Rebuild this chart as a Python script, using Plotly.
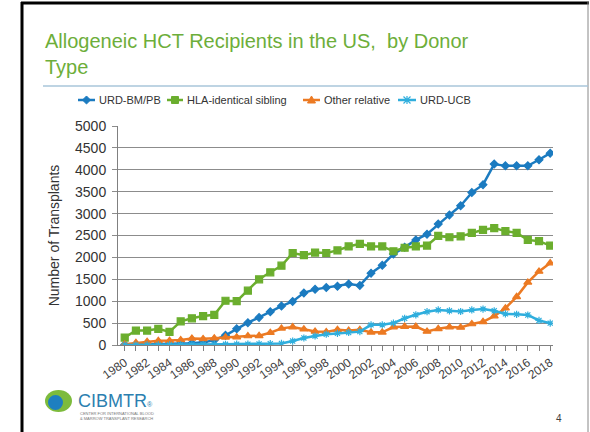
import plotly.graph_objects as go

years = list(range(1980, 2019))
urd_bm_pb = [5, 10, 15, 20, 25, 30, 40, 60, 110, 220,
             370, 510, 630, 760, 890, 995, 1190, 1270, 1310, 1340,
             1390, 1360, 1640, 1820, 2080, 2230, 2400, 2530, 2760, 2970,
             3180, 3480, 3660, 4130, 4090, 4090, 4090, 4230, 4380]
hla_sibling = [170, 330, 330, 370, 300, 540, 610, 660, 690, 1010,
               1000, 1240, 1500, 1660, 1810, 2100, 2050, 2110, 2100, 2160,
               2250, 2310, 2250, 2250, 2140, 2220, 2250, 2270, 2490, 2460,
               2480, 2560, 2630, 2670, 2600, 2560, 2400, 2370, 2270]
other_relative = [20, 50, 75, 95, 100, 115, 150, 140, 155, 175,
                  180, 205, 210, 280, 380, 410, 360, 310, 300, 350,
                  330, 350, 290, 290, 410, 420, 420, 310, 370, 410,
                  400, 480, 530, 660, 840, 1100, 1430, 1680, 1870]
urd_ucb = [0, 0, 2, 3, 5, 5, 8, 10, 12, 15,
           20, 20, 25, 30, 35, 90, 160, 205, 245, 265,
           285, 305, 460, 460, 500, 610, 690, 760, 800, 780,
           765, 800, 820, 780, 710, 700, 685, 560, 500]
series_names = ["URD-BM/PB", "HLA-identical sibling", "Other relative", "URD-UCB"]
tick_years = list(range(1980, 2019, 2))
y_ticks = list(range(0, 5001, 500))

W, H = 590, 432
L, R, T, B = 118, 37, 126, 87
PW, PH = W - L - R, H - T - B


def px(x):
    return (x - L) / PW


def py(y):
    return (H - B - y) / PH


def path(points, close=False):
    segs = []
    for i, (x, y) in enumerate(points):
        segs.append(("M" if i == 0 else "L") + f"{px(x):.5f},{py(y):.5f}")
    return " ".join(segs) + (" Z" if close else "")


colors = ["#1B7BC0", "#6BAE2E", "#EC7A23", "#2FAEDD"]
symbols = ["diamond", "square", "triangle-up", "asterisk-open"]
sizes = [6, 7, 7, 6]

fig = go.Figure()
for name, vals, c, s, sz in zip(series_names, [urd_bm_pb, hla_sibling, other_relative, urd_ucb], colors, symbols, sizes):
    fig.add_trace(go.Scatter(
        x=years, y=vals, name=name, mode="lines+markers",
        line=dict(color=c, width=2.5),
        marker=dict(symbol=s, size=sz, color=c, line=dict(color=c, width=1.2)),
        showlegend=False,
    ))

fig.update_layout(
    width=W, height=H,
    margin=dict(l=L, r=R, t=T, b=B),
    paper_bgcolor="white", plot_bgcolor="white",
    font=dict(family="Arial, Liberation Sans, sans-serif", color="#404040"),
    showlegend=False,
    xaxis=dict(range=[1979.4, 2018.25], tickmode="array", tickvals=tick_years,
               ticktext=[str(v) for v in tick_years], tickangle=-35,
               tickfont=dict(size=12, color="#404040"), showgrid=False,
               showline=True, linecolor="#808080", linewidth=1,
               ticks="outside", ticklen=5, tickcolor="#808080",
               minor=dict(ticks="outside", ticklen=5, tickcolor="#808080", dtick=1, tick0=1980),
               zeroline=False),
    yaxis=dict(range=[0, 5000], tickvals=y_ticks, tickfont=dict(size=14, color="#333333"),
               showgrid=True, gridcolor="#8c8c8c", gridwidth=1,
               showline=True, linecolor="#808080", linewidth=1, zeroline=False,
               ticks="outside", ticklen=5, tickcolor="#8c8c8c", ticklabelstandoff=3,
               title=dict(text="Number of Transplants", font=dict(size=14, color="#333333"), standoff=12)),
)

shapes = [
    # slide frame
    dict(type="line", xref="paper", yref="paper", x0=px(22), x1=px(22), y0=py(2), y1=py(432),
         line=dict(color="black", width=3)),
    dict(type="line", xref="paper", yref="paper", x0=px(21), x1=px(589), y0=py(3), y1=py(3),
         line=dict(color="black", width=3)),
    dict(type="line", xref="paper", yref="paper", x0=px(588), x1=px(588), y0=py(2), y1=py(432),
         line=dict(color="#888888", width=1)),
    # title separator
    dict(type="line", xref="paper", yref="paper", x0=px(43), x1=px(588), y0=py(86), y1=py(86),
         line=dict(color="#A9C6DA", width=1.5)),
    # logo
    dict(type="circle", xref="paper", yref="paper", x0=px(45), x1=px(72), y0=py(390), y1=py(412),
         fillcolor="#7DBB3C", line=dict(width=0)),
    dict(type="circle", xref="paper", yref="paper", x0=px(48), x1=px(63), y0=py(395), y1=py(410),
         fillcolor="#1E7FC0", line=dict(width=0)),
]

# manual legend (line segment + marker + label)
leg_y = 100
leg_items = [(78, 95, 97), (167, 183, 185), (303, 320, 322), (398, 416, 418)]
annotations = []
for (x0, x1, xt), name, c, s in zip(leg_items, series_names, colors, symbols):
    shapes.append(dict(type="line", xref="paper", yref="paper", x0=px(x0), x1=px(x1),
                       y0=py(leg_y), y1=py(leg_y), line=dict(color=c, width=2.5)))
    cx = (x0 + x1) / 2
    if s == "diamond":
        shapes.append(dict(type="path", xref="paper", yref="paper",
                           path=path([(cx, leg_y - 4), (cx + 4, leg_y), (cx, leg_y + 4), (cx - 4, leg_y)], True),
                           fillcolor=c, line=dict(color=c, width=1)))
    elif s == "square":
        shapes.append(dict(type="path", xref="paper", yref="paper",
                           path=path([(cx - 3.5, leg_y - 3.5), (cx + 3.5, leg_y - 3.5), (cx + 3.5, leg_y + 3.5), (cx - 3.5, leg_y + 3.5)], True),
                           fillcolor=c, line=dict(color=c, width=1)))
    elif s == "triangle-up":
        shapes.append(dict(type="path", xref="paper", yref="paper",
                           path=path([(cx, leg_y - 4), (cx + 4, leg_y + 3), (cx - 4, leg_y + 3)], True),
                           fillcolor=c, line=dict(color=c, width=1)))
    else:
        p = path([(cx - 3.5, leg_y - 3.5), (cx + 3.5, leg_y + 3.5)]) + " " + \
            path([(cx - 3.5, leg_y + 3.5), (cx + 3.5, leg_y - 3.5)]) + " " + \
            path([(cx, leg_y - 4), (cx, leg_y + 4)])
        shapes.append(dict(type="path", xref="paper", yref="paper", path=p,
                           line=dict(color=c, width=1.2)))
    annotations.append(dict(text=name, xref="paper", yref="paper", x=px(xt), y=py(leg_y),
                            xanchor="left", yanchor="middle", showarrow=False,
                            font=dict(size=11, color="#333333")))

fig.update_layout(shapes=shapes)

annotations += [
    dict(text="Allogeneic HCT Recipients in the US,  by Donor<br>Type", xref="paper", yref="paper",
         x=px(43), y=py(28), xanchor="left", yanchor="top", align="left", showarrow=False,
         font=dict(size=20, color="#6DAE3A")),
    dict(text="CIBMTR<span style='font-size:7px'>®</span>", xref="paper", yref="paper", x=px(76), y=py(401),
         xanchor="left", yanchor="middle", showarrow=False,
         font=dict(size=18, color="#2C7FB0")),
    dict(text="CENTER FOR INTERNATIONAL BLOOD<br>& MARROW TRANSPLANT RESEARCH", xref="paper", yref="paper",
         x=px(78), y=py(416), xanchor="left", yanchor="middle", showarrow=False, align="left",
         font=dict(size=4, color="#777777")),
    dict(text="4", xref="paper", yref="paper", x=px(559), y=py(418), xanchor="center", yanchor="middle",
         showarrow=False, font=dict(size=10, color="#404040")),
]
fig.update_layout(annotations=annotations)

fig.write_html("out.html", config={"displayModeBar": False},
               post_script="document.body.style.margin='0px';")
